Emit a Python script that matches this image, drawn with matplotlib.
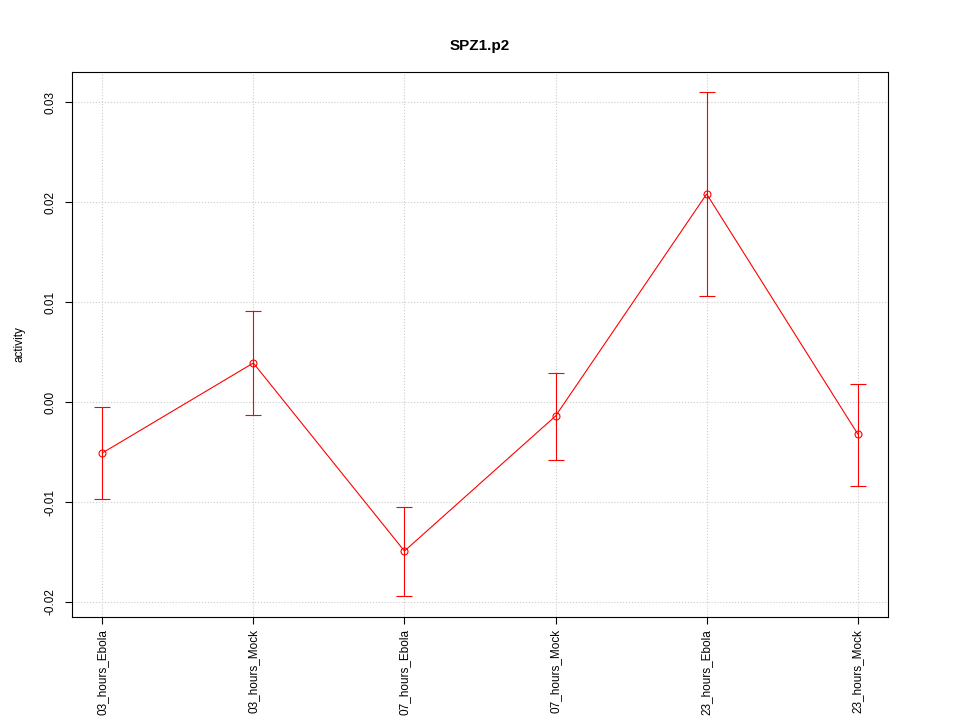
import numpy as np
import matplotlib
matplotlib.use('Agg')
import matplotlib.pyplot as plt

plt.rcParams['font.family'] = ['Liberation Sans', 'DejaVu Sans']

# values
labels = ['03_hours_Ebola', '03_hours_Mock', '07_hours_Ebola',
          '07_hours_Mock', '23_hours_Ebola', '23_hours_Mock']
activity = [-0.0051, 0.0039, -0.0149, -0.0014, 0.0208, -0.0032]
upper = [-0.0005, 0.0091, -0.0105, 0.0029, 0.0310, 0.0018]
lower = [-0.0097, -0.0013, -0.0194, -0.0058, 0.0106, -0.0084]

x = np.arange(1, len(labels) + 1)
act = np.array(activity)
yerr = [act - np.array(lower), np.array(upper) - act]

fig = plt.figure(figsize=(9.6, 7.2), dpi=100)
ax = fig.add_axes([0.075, 0.143, 0.85, 0.757])

ax.errorbar(x, act, yerr=yerr, color='red', ecolor='red', elinewidth=0.8,
            capsize=5.5, capthick=0.8, linewidth=0.8,
            marker='o', markersize=5, markerfacecolor='none',
            markeredgecolor='red', markeredgewidth=0.8)

ax.set_xlim(0.8, 6.2)
ax.set_ylim(-0.0215, 0.033)
ax.set_xticks(x)
ax.set_xticklabels(labels, rotation=90, fontsize=8.5)
yt = [-0.02, -0.01, 0.0, 0.01, 0.02, 0.03]
ax.set_yticks(yt)
ax.set_yticklabels(['%.2f' % v for v in yt], rotation=90, fontsize=8.5, va='center')
ax.tick_params(length=5, width=0.8)
ax.tick_params(axis='y', pad=6)
ax.grid(True, color='#cccccc', linestyle=':', linewidth=0.8)
ax.set_axisbelow(True)
ax.set_ylabel('activity', fontsize=8.5, labelpad=14)
ax.set_title('SPZ1.p2', fontsize=11, fontweight='bold', pad=16)
for s in ax.spines.values():
    s.set_linewidth(0.8)

fig.savefig('out.png', dpi=100)
